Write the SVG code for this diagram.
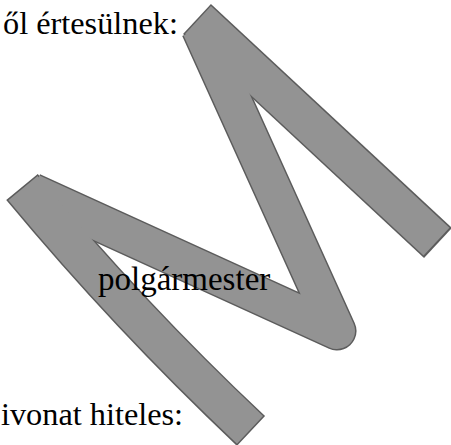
<svg xmlns="http://www.w3.org/2000/svg" width="451" height="445" viewBox="0 0 451 445">
<style>
.t{font-family:"Liberation Serif","Times New Roman",serif;font-size:32.3px;fill:#000}
.o{fill:none;stroke:#5c5c5c;stroke-linejoin:round;stroke-linecap:butt}
.f{fill:none;stroke:#939393;stroke-linejoin:round;stroke-linecap:butt}
</style>
<rect width="451" height="445" fill="#fff"/>
<g id="signature">
<g id="outline">
<path class="o" stroke-width="39" d="M32,192 L337,331 L200,28"/>
<path class="o" stroke-width="41" d="M197,19 L438,243"/>
<path class="o" stroke-width="41" d="M22,187 Q129,316 251,431"/>
</g>
<g id="fill">
<path class="f" stroke-width="36" d="M32,192 L337,331 L200,28"/>
<path class="f" stroke-width="38" d="M198,20 L436.5,241.6"/>
<path class="f" stroke-width="38" d="M23,188.2 Q129,316 250,429.8"/>
</g>
</g>
<g id="texts">
<text class="t" x="3" y="34">ől értesülnek:</text>
<text class="t" x="98" y="290" style="font-size:33px">polgármester</text>
<text class="t" x="1" y="425">ivonat hiteles:</text>
</g>
</svg>
